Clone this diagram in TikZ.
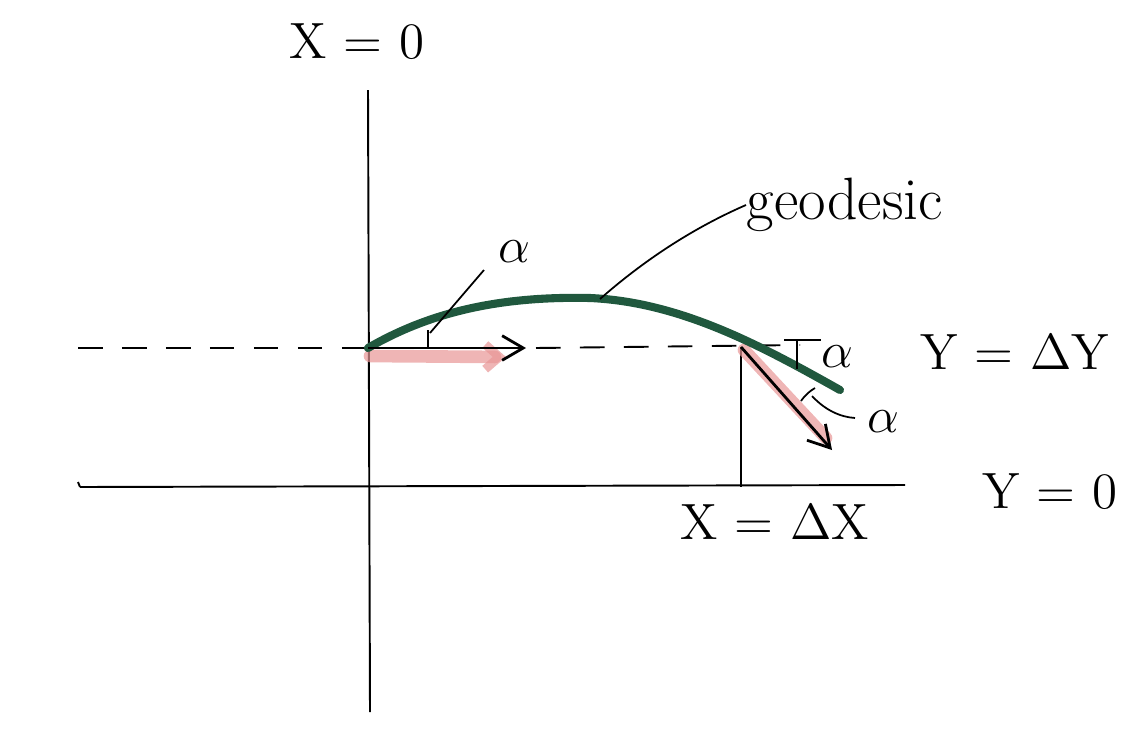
\documentclass[tikz,border=0pt]{standalone}
\usetikzlibrary{arrows.meta}
\definecolor{geo}{RGB}{32,88,62}
\definecolor{pinkhl}{RGB}{232,150,150}
\tikzset{
  axis/.style={line width=0.55pt, black},
  dashline/.style={line width=0.55pt, black, dash pattern=on 7pt off 5.5pt},
  geoline/.style={line width=2.3pt, geo, line cap=round},
  hl/.style={line width=3.6pt, pinkhl, opacity=0.7, line cap=round},
  vec/.style={line width=0.8pt, black, -{Straight Barb[length=6pt,width=7pt,line width=0.8pt]}},
  hlvec/.style={hl, -{Straight Barb[length=4pt,width=7pt,line width=2.5pt]}},
  thin/.style={line width=0.5pt, black},
  lbl/.style={font=\fontsize{14.5}{17}\selectfont, inner sep=0pt},
}
\begin{document}
\begin{tikzpicture}[x=0.01cm,y=-0.01cm]
\useasboundingbox (0,0) rectangle (1130,751);
% key points
\coordinate (O) at (368,348);
\coordinate (P) at (741,347);
\coordinate (Top) at (368,90);
\coordinate (Bot) at (370,712);
\coordinate (Lft) at (80,487);
\coordinate (Rgt) at (905,485);
\coordinate (DL) at (78,348);
\coordinate (DR) at (800,345);
\coordinate (PB) at (741,487);
\coordinate (Peak) at (590,298);
\coordinate (GEnd) at (840,390);
\coordinate (V1) at (526,348);
\coordinate (V2) at (832,450);
\coordinate (H1) at (370,356);
\coordinate (H2) at (506,357);
% axes
\draw[axis] (Top) -- (Bot);
\draw[axis] (Lft) -- (Rgt);
\draw[axis] (Lft) -- ++(-2,-5);
\draw[dashline] (DL) -- (O);
\draw[dashline] (V1) ++(10,0) -- (DR);
\draw[axis] (P) -- (PB);
% highlights
\draw[hlvec] (H1) -- (H2);
\draw[hl] (744,350) -- (826,438);
% geodesic
\draw[geoline] (O) .. controls (430,312) and (500,296) .. (Peak)
  .. controls (680,302) and (760,345) .. (GEnd);
% vectors
\draw[vec] (O) -- (V1);
\draw[vec] (P) -- (V2);
% labels
\node[lbl] (x0) at (357,42) {X = 0};
\node[lbl] (y0) at (1050,492) {Y = 0};
\node[lbl] (ydy) at (1015,352) {Y = $\Delta$Y};
\node[lbl] (xdx) at (775,522) {X = $\Delta$X};
\node[lbl, anchor=west, font=\fontsize{17}{20}\selectfont] (geotxt) at (746,205) {geodesic};
\node[lbl] (a1) at (514,252) {$\alpha$};
\node[lbl] (a2) at (837,357) {$\alpha$};
\node[lbl] (a3) at (883,422) {$\alpha$};
% leaders and angle marks
\draw[thin] (600,299) .. controls (650,255) and (700,225) .. (geotxt.west);
\draw[thin] (430,333) -- (484,270);
\draw[thin] (428,330) -- (428,348);
\draw[thin] (784,340) -- (821,340);
\draw[thin] (797,340) -- (797,369);
\draw[thin] (801,401) .. controls (806,394) and (810,391) .. (815,388);
\draw[thin] (812,396) .. controls (825,410) and (840,417) .. (855,418);
\end{tikzpicture}
\end{document}
